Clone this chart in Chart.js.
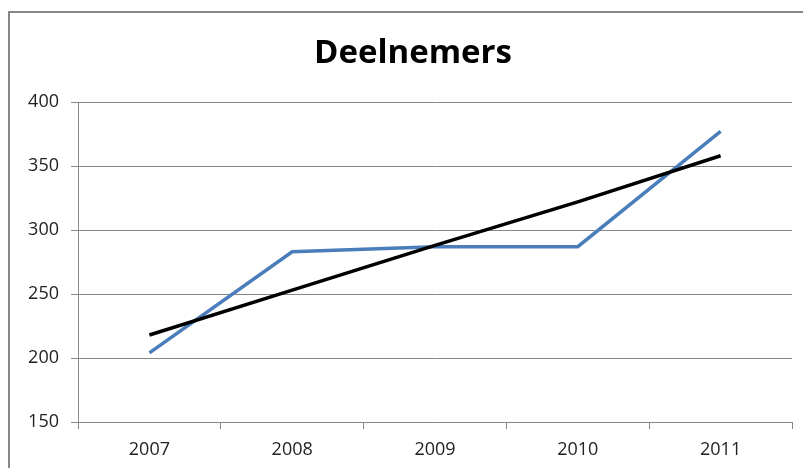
<!DOCTYPE html>
<html>
<head>
  <meta charset="UTF-8">
  <title>Deelnemers</title>
  <script src="https://cdn.jsdelivr.net/npm/chart.js"></script>
  <style>
    html, body {
      margin: 0;
      padding: 0;
      overflow: hidden;
      background: #fff;
    }
    #box {
      position: absolute;
      left: 8px;
      top: 11px;
      width: 806px;
      height: 470px;
      border: 2px solid #878787;
    }
  </style>
</head>
<body>
  <div id="box">
    <canvas id="chart" width="806" height="455"></canvas>
  </div>

  <script>
    // Values
    const years = ["2007", "2008", "2009", "2010", "2011"];
    const deelnemers = [204, 283, 287, 287, 377];
    const trend = [218, 253, 288, 322, 358];
    const yTicks = [150, 200, 250, 300, 350, 400];

    const gridGray = "#878787";

    const chart = new Chart(document.getElementById("chart").getContext("2d"), {
      type: "line",
      data: {
        labels: years,
        datasets: [
          {
            label: "Deelnemers",
            data: deelnemers,
            borderColor: "#4a7ebb",
            borderWidth: 3.5,
            pointRadius: 0,
            tension: 0,
            order: 2
          },
          {
            label: "Trend",
            data: trend,
            borderColor: "#000000",
            borderWidth: 3.5,
            pointRadius: 0,
            tension: 0,
            order: 1
          }
        ]
      },
      options: {
        responsive: false,
        animation: false,
        layout: { padding: 0 },
        plugins: {
          legend: { display: false },
          tooltip: { enabled: false },
          title: {
            display: true,
            text: "Deelnemers",
            color: "#000",
            font: { family: "Open Sans", size: 33, weight: "bold", lineHeight: 1.2 },
            padding: { top: 21, bottom: 28.4 }
          }
        },
        scales: {
          x: {
            offset: true,
            grid: {
              offset: true,
              drawOnChartArea: false,
              drawTicks: true,
              tickLength: 7,
              color: gridGray
            },
            border: { color: gridGray, width: 1 },
            ticks: {
              color: "#222",
              padding: 10,
              font: { family: "Open Sans", size: 18 }
            },
            afterFit: (scale) => { scale.height = 46; }
          },
          y: {
            min: 150,
            max: 400,
            afterBuildTicks: (scale) => {
              scale.ticks = yTicks.map(v => ({ value: v }));
            },
            grid: {
              color: gridGray,
              drawTicks: true,
              tickLength: 7,
              lineWidth: 1
            },
            border: { color: gridGray, width: 1 },
            ticks: {
              color: "#222",
              padding: 12,
              font: { family: "Open Sans", size: 18 }
            },
            afterFit: (scale) => { scale.width = 68; }
          },
          // empty strip on the right so the plot ends where the reference does
          yRight: {
            position: "right",
            min: 150,
            max: 400,
            grid: { drawOnChartArea: false, drawTicks: false },
            border: { display: false },
            ticks: { display: false },
            afterFit: (scale) => { scale.width = 24; }
          }
        }
      }
    });
  </script>
</body>
</html>
